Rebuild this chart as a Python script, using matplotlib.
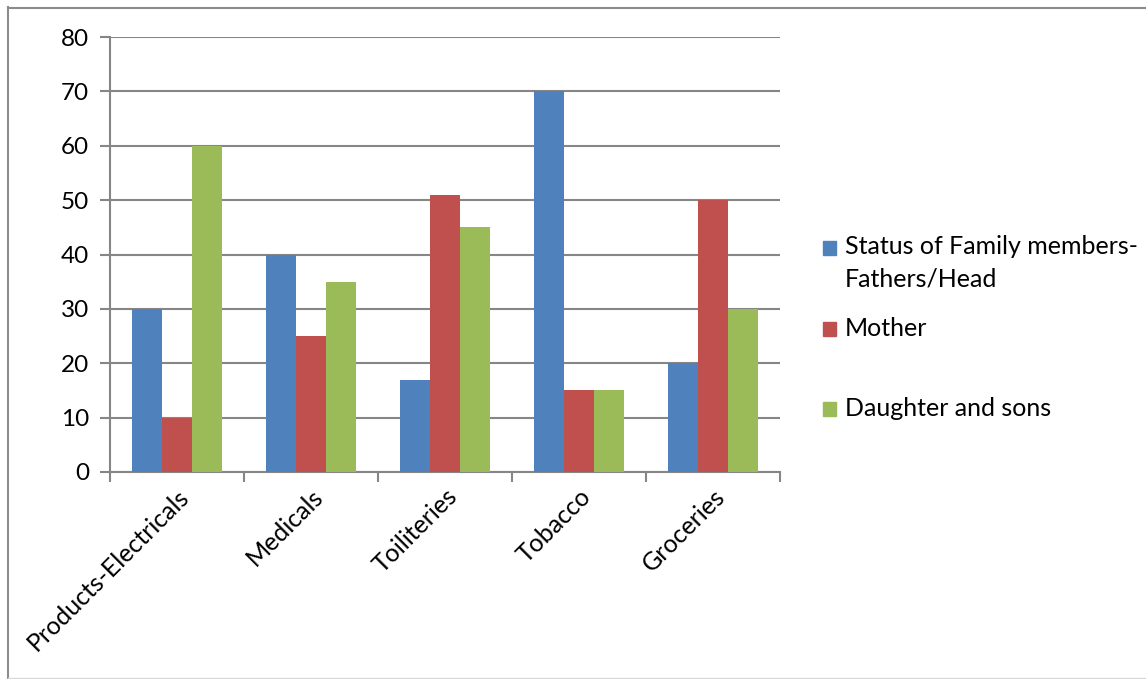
import numpy as np
import matplotlib.pyplot as plt
from matplotlib.lines import Line2D
from matplotlib.patches import Rectangle

plt.rcParams['font.family'] = ['Lato', 'DejaVu Sans']

categories = ['Products-Electricals', 'Medicals', 'Toiliteries', 'Tobacco', 'Groceries']
fathers = [30, 40, 17, 70, 20]
mother = [10, 25, 51, 15, 50]
children = [60, 35, 45, 15, 30]
series_names = ['Status of Family members-\nFathers/Head', 'Mother', 'Daughter and sons']
colors = ['#4f81bd', '#c0504d', '#9bbb59']

W, H = 1146, 679
fig = plt.figure(figsize=(W / 100, H / 100), dpi=100)

# chart area border (left, top, bottom edges visible)
fig.add_artist(Line2D([8 / W, 8 / W], [1 - 7 / H, 1 - 678 / H], color='#8c8c8c', lw=1.5))
fig.add_artist(Line2D([8 / W, 1.0], [1 - 7.5 / H, 1 - 7.5 / H], color='#8c8c8c', lw=1.5))
fig.add_artist(Line2D([8 / W, 1.0], [1 - 678 / H, 1 - 678 / H], color='#d9d9d9', lw=1))

ax = fig.add_axes([110 / W, 1 - 472 / H, 670 / W, 435 / H])

x = np.arange(len(categories))
bw = 0.222
for i, (vals, c) in enumerate(zip([fathers, mother, children], colors)):
    ax.bar(x + (i - 1) * bw, vals, bw, color=c, zorder=3)

ax.set_xlim(-0.5, len(categories) - 0.5)
ax.set_ylim(0, 80)
ax.set_yticks(range(0, 81, 10))
ax.yaxis.grid(True, color='#868686', lw=1.5, zorder=0)
ax.set_axisbelow(True)

for s in ['top', 'right']:
    ax.spines[s].set_visible(False)
for s in ['left', 'bottom']:
    ax.spines[s].set_color('#868686')
    ax.spines[s].set_linewidth(1.5)

ax.tick_params(axis='y', length=7, width=1.5, color='#868686', labelsize=17.5, pad=8)
ax.set_xticks(np.arange(-0.5, len(categories)), minor=False)
ax.set_xticklabels([])
ax.tick_params(axis='x', length=7, width=1.5, color='#868686')
for xi, lab in zip(x, categories):
    ax.annotate(lab, xy=(xi, 0), xycoords=('data', 'axes fraction'),
                xytext=(6, -15), textcoords='offset points',
                rotation=45, rotation_mode='anchor', ha='right', va='center',
                fontsize=18)

# legend
leg_y = [248, 329, 409]
for (yc, name, c) in zip(leg_y, series_names, colors):
    fig.add_artist(Rectangle((823 / W, 1 - (yc + 7) / H), 13 / W, 14 / H,
                             color=c, transform=fig.transFigure))
    for k, line in enumerate(name.split('\n')):
        fig.text(845 / W, 1 - (yc - 1 + 32 * k) / H, line, fontsize=18,
                 va='center')

fig.savefig('out.png', dpi=100)
